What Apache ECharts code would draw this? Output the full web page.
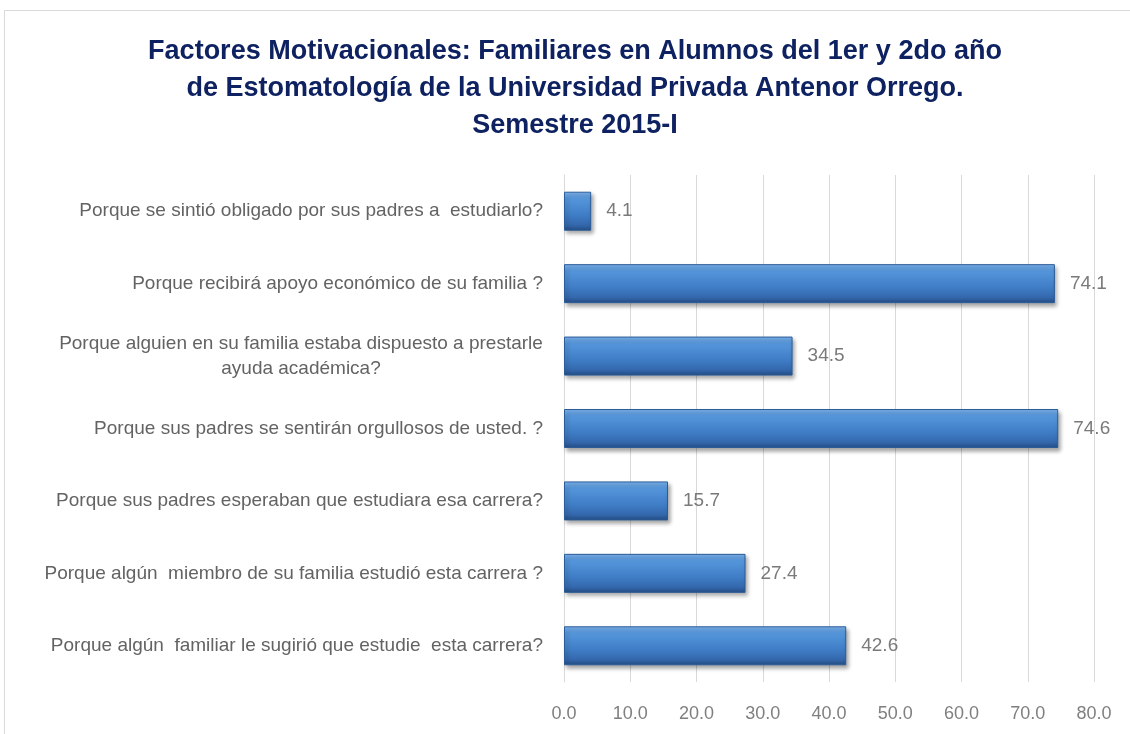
<!DOCTYPE html>
<html>
<head>
<meta charset="utf-8">
<script src="https://cdn.jsdelivr.net/npm/echarts@6/dist/echarts.min.js"></script>
<style>
  html, body { margin: 0; padding: 0; background: #fff; }
  #chart { width: 1130px; height: 734px; }
</style>
</head>
<body>
<div id="chart"></div>
<script>
  // categories, top to bottom
  const categories = [
    'Porque se sintió obligado por sus padres a  estudiarlo?',
    'Porque recibirá apoyo económico de su familia ?',
    'Porque alguien en su familia estaba dispuesto a prestarle\nayuda académica?',
    'Porque sus padres se sentirán orgullosos de usted. ?',
    'Porque sus padres esperaban que estudiara esa carrera?',
    'Porque algún  miembro de su familia estudió esta carrera ?',
    'Porque algún  familiar le sugirió que estudie  esta carrera?'
  ]
  const values = [4.1, 74.1, 34.5, 74.6, 15.7, 27.4, 42.6]
  const titleLines = [
    'Factores Motivacionales: Familiares en Alumnos del 1er y 2do año',
    'de Estomatología de la Universidad Privada Antenor Orrego.',
    'Semestre 2015-I'
  ]

  const labelFont = "'Liberation Sans', Arial, sans-serif"
  const labelSize = 19

  // width of the longest line, so wrapped labels stay right aligned
  const ctx = document.createElement('canvas').getContext('2d')
  ctx.font = labelSize + 'px ' + labelFont
  function lineWidth(s) {
    return Math.ceil(ctx.measureText(s).width)
  }

  const chart = echarts.init(document.getElementById('chart'))
  const option = {
    animation: false,
    title: {
      text: titleLines.map(function (s) { return '{t|' + s + '}' }).join('\n'),
      left: 142,
      top: 28,
      textStyle: {
        rich: {
          t: {
            fontFamily: "'Liberation Sans Narrow', 'Arial Narrow', 'Liberation Sans', sans-serif",
            fontWeight: 'bold',
            fontSize: 27,
            lineHeight: 37,
            width: 856,
            align: 'center',
            color: '#0e2160'
          }
        }
      }
    },
    graphic: [
      {
        type: 'rect',
        shape: { x: 4.5, y: 10.5, width: 1200, height: 800 },
        style: { fill: 'none', stroke: '#d9d9d9', lineWidth: 1 },
        silent: true
      }
    ],
    grid: {
      left: 564,
      right: 36,
      top: 175,
      bottom: 52
    },
    xAxis: {
      type: 'value',
      min: 0,
      max: 80,
      interval: 10,
      axisLine: { show: false },
      axisTick: { show: false },
      splitLine: { show: true, lineStyle: { color: '#d9d9d9', width: 1 } },
      axisLabel: {
        margin: 23,
        color: '#7f7f7f',
        fontSize: 18,
        fontFamily: labelFont,
        formatter: function (v) { return v.toFixed(1) }
      }
    },
    yAxis: {
      type: 'category',
      inverse: true,
      data: categories,
      axisLine: { show: true, lineStyle: { color: '#d9d9d9' } },
      axisTick: { show: false },
      axisLabel: {
        margin: 21,
        color: '#636363',
        fontSize: labelSize,
        lineHeight: 25,
        fontFamily: labelFont,
        formatter: function (v) {
          if (v.indexOf('\n') < 0) return v
          return v.split('\n').map(function (s) { return '{c|' + s + '}' }).join('\n')
        },
        rich: {
          c: {
            width: lineWidth(categories[2].split('\n')[0]),
            align: 'center',
            color: '#636363',
            fontSize: labelSize,
            lineHeight: 25,
            fontFamily: labelFont
          }
        }
      }
    },
    series: [
      {
        type: 'bar',
        data: values,
        barWidth: 39,
        itemStyle: {
          color: new echarts.graphic.LinearGradient(0, 0, 0, 1, [
            { offset: 0, color: '#7db3ee' },
            { offset: 0.18, color: '#5596db' },
            { offset: 0.6, color: '#3f7dc6' },
            { offset: 0.85, color: '#3468ad' },
            { offset: 1, color: '#244c82' }
          ]),
          borderColor: '#2c5c98',
          borderWidth: 1,
          shadowColor: 'rgba(0, 0, 0, 0.35)',
          shadowBlur: 4,
          shadowOffsetX: 2,
          shadowOffsetY: 3
        },
        label: {
          show: true,
          position: 'right',
          distance: 15,
          color: '#7a7a7a',
          fontSize: 19,
          fontFamily: labelFont,
          formatter: function (p) { return p.value.toFixed(1) }
        }
      }
    ]
  }
  chart.setOption(option)
</script>
</body>
</html>
